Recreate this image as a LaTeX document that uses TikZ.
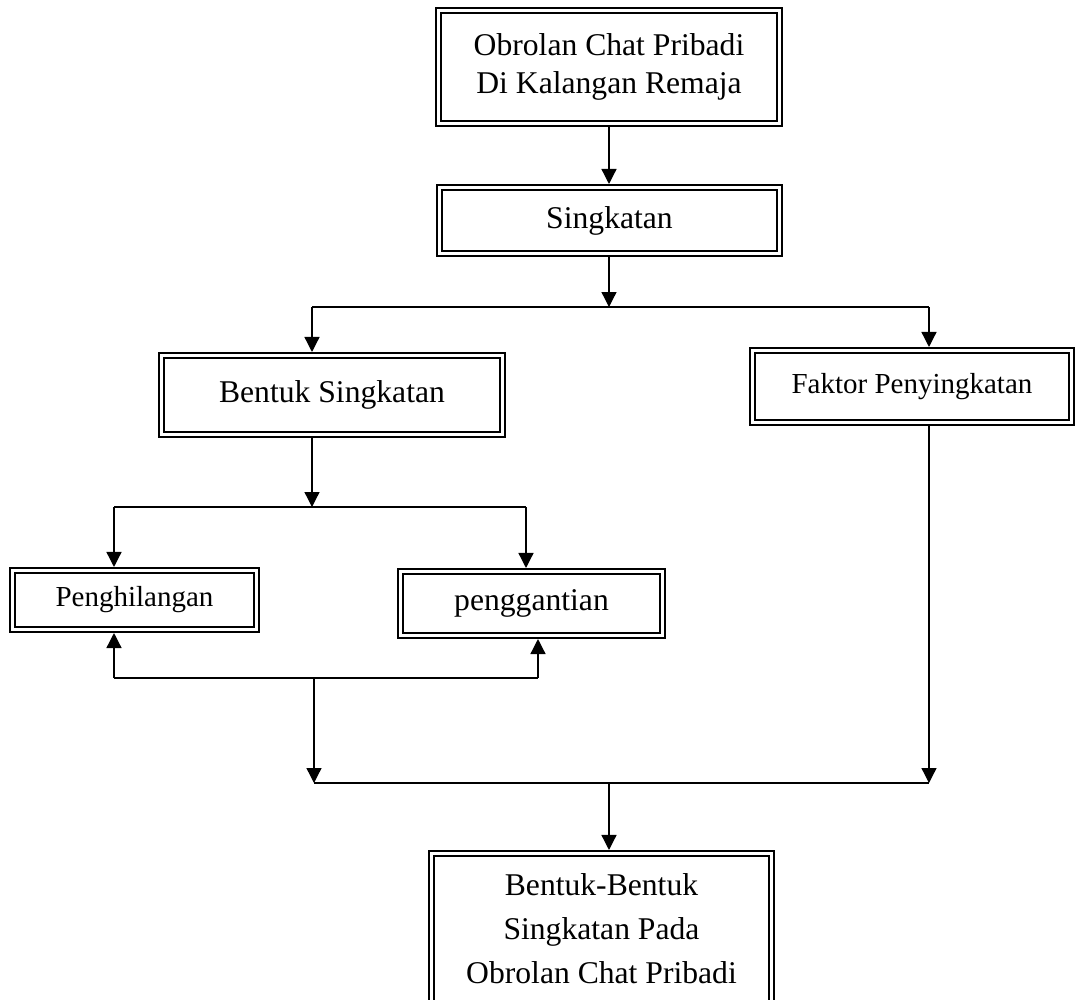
\documentclass[tikz,border=0pt]{standalone}
\usepackage{fontspec}
\setmainfont{Liberation Serif}
\usetikzlibrary{arrows.meta}
\tikzset{
	kotak/.style={draw, double, double distance=1.2pt, line width=1.4pt, inner sep=0pt, outer sep=0pt, align=center, font=\fontsize{18}{21.6}\selectfont},
	garis/.style={line width=0.75pt},
	panah/.style={garis, -{Triangle[length=0.3cm, width=0.3cm]}},
	kekotak/.style={panah, shorten >=2pt}
}

\begin{document}
\begin{tikzpicture}
		%%%%% START %%%%%
		\useasboundingbox (0, 0) rectangle (21.52, -20);
		
		\node[kotak, minimum width=6.82cm, minimum height=2.26cm] (obrolan) at (12.18, -1.34) {Obrolan Chat Pribadi\\Di Kalangan Remaja};
		\node[kotak, minimum width=6.80cm, minimum height=1.32cm] (singkatan) at (12.19, -4.41) {Singkatan};
		
		\node[kotak, minimum width=6.82cm, minimum height=1.58cm] (bentuk) at (6.64, -7.90) {Bentuk Singkatan};
		\node[kotak, minimum width=6.38cm, minimum height=1.44cm, font=\fontsize{16.5}{20}\selectfont] (faktor) at (18.24, -7.73) {Faktor Penyingkatan};
		
		\node[kotak, minimum width=4.88cm, minimum height=1.18cm, font=\fontsize{16.5}{20}\selectfont] (penghilangan) at (2.69, -12.00) {Penghilangan};
		\node[kotak, minimum width=5.24cm, minimum height=1.28cm] (penggantian) at (10.63, -12.07) {penggantian};
		
		\node[kotak, minimum width=6.80cm, minimum height=3.02cm, font=\fontsize{18}{25}\selectfont] (hasil) at (12.03, -18.58) {Bentuk-Bentuk\\Singkatan Pada\\Obrolan Chat Pribadi};
		
		\draw[kekotak, shorten <=2pt] (obrolan.south) -- (obrolan.south |- singkatan.north);
		
		\coordinate (kiri1) at (6.24, -6.14);
		\coordinate (kanan1) at (18.58, -6.14);
		\draw[panah, shorten <=2pt] (obrolan.south |- singkatan.south) -- (obrolan.south |- kiri1);
		\draw[garis] (kiri1) -- (kanan1);
		\draw[kekotak] (kiri1) -- (kiri1 |- bentuk.north);
		\draw[kekotak] (kanan1) -- (kanan1 |- faktor.north);
		
		\coordinate (kiri2) at (2.28, -10.14);
		\coordinate (kanan2) at (10.52, -10.14);
		\draw[panah, shorten <=2pt] (bentuk.south -| kiri1) -- (kiri1 |- kiri2);
		\draw[garis] (kiri2) -- (kanan2);
		\draw[kekotak] (kiri2) -- (kiri2 |- penghilangan.north);
		\draw[kekotak] (kanan2) -- (kanan2 |- penggantian.north);
		
		\coordinate (kiri3) at (2.28, -13.56);
		\coordinate (kanan3) at (10.76, -13.56);
		\coordinate (tengah3) at (6.28, -13.56);
		\draw[kekotak] (kiri3) -- (kiri3 |- penghilangan.south);
		\draw[kekotak] (kanan3) -- (kanan3 |- penggantian.south);
		\draw[garis] (kiri3) -- (kanan3);
		
		\coordinate (kiri4) at (6.28, -15.66);
		\coordinate (kanan4) at (18.58, -15.66);
		\draw[panah] (tengah3) -- (kiri4);
		\draw[panah, shorten <=2pt] (faktor.south -| kanan4) -- (kanan4);
		\draw[garis] (kiri4) -- (kanan4);
		\draw[kekotak] (kiri4 -| obrolan.south) -- (obrolan.south |- hasil.north);
		%%%%% END %%%%%
	\end{tikzpicture}
\end{document}
